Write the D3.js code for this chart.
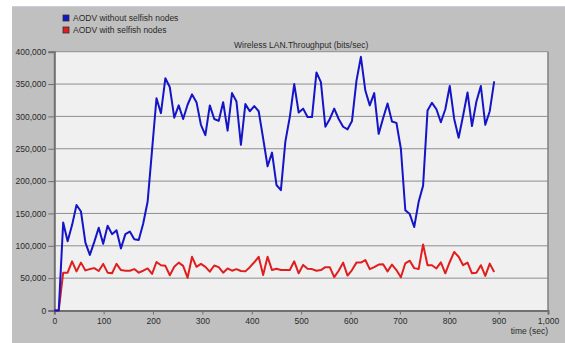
<!DOCTYPE html>
<html>
<head>
<meta charset="utf-8">
<script src="https://cdn.jsdelivr.net/npm/d3@7"></script>
<style>
  body { margin: 0; background: #ffffff; }
  svg { display: block; font-family: "Liberation Sans", Arial, sans-serif; }
</style>
</head>
<body>
<svg id="chart" width="565" height="343"></svg>
<script>
// sample times (sec)
var times = [0, 9, 18, 27, 36, 45, 54, 63, 72, 81, 90, 99, 108, 117, 126, 135, 144, 153, 162, 171,
  180, 189, 198, 207, 216, 225, 234, 243, 252, 261, 270, 279, 288, 297, 306, 315, 324, 333, 342, 351,
  360, 369, 378, 387, 396, 405, 414, 423, 432, 441, 450, 459, 468, 477, 486, 495, 504, 513, 522, 531,
  540, 549, 558, 567, 576, 585, 594, 603, 612, 621, 630, 639, 648, 657, 666, 675, 684, 693, 702, 711,
  720, 729, 738, 747, 756, 765, 774, 783, 792, 801, 810, 819, 828, 837, 846, 855, 864, 873, 882, 891];

// AODV without selfish nodes (bits/sec)
var withoutSelfish = [0, 0, 136000, 107000, 132000, 163000, 153000, 105000, 86000, 106000,
  128000, 103000, 131000, 118000, 124000, 96000, 118000, 122000, 110000, 109000,
  134000, 168000, 248000, 328000, 305000, 359000, 345000, 298000, 317000, 296000,
  318000, 334000, 322000, 287000, 271000, 317000, 296000, 293000, 322000, 278000,
  336000, 323000, 256000, 319000, 308000, 316000, 308000, 266000, 223000, 244000,
  194000, 186000, 261000, 299000, 350000, 306000, 312000, 299000, 299000, 368000,
  353000, 284000, 296000, 312000, 296000, 284000, 280000, 293000, 355000, 392000,
  340000, 317000, 336000, 273000, 297000, 320000, 292000, 290000, 250000, 155000,
  149000, 129000, 168000, 193000, 309000, 321000, 311000, 291000, 311000, 347000,
  296000, 267000, 301000, 337000, 285000, 323000, 347000, 287000, 308000, 354000];

// AODV with selfish nodes (bits/sec)
var withSelfish = [0, 0, 58500, 58500, 76000, 60500, 74000, 62000, 64000, 65500,
  61000, 72000, 58500, 57500, 72000, 62500, 61500, 61500, 64000, 58500,
  61500, 65000, 56500, 75000, 70000, 69000, 54500, 67500, 74000, 69000,
  50500, 83000, 67500, 72000, 67500, 60000, 69500, 67000, 58500, 65000,
  61500, 64000, 61000, 60500, 67000, 74500, 83000, 55000, 83000, 62500,
  64500, 62500, 62500, 62500, 76000, 57500, 70500, 64500, 64000, 61500,
  62500, 67000, 67000, 51500, 61500, 74000, 54000, 62500, 74000, 74000,
  78000, 64000, 67000, 71000, 71500, 60500, 71000, 62500, 51500, 73000,
  77000, 65500, 64000, 102000, 70000, 70000, 65000, 74500, 57500, 75000,
  90500, 83000, 70000, 74000, 57500, 58500, 70000, 53500, 72500, 59500];

var yTicks = [0, 50000, 100000, 150000, 200000, 250000, 300000, 350000, 400000];
var xTicks = [0, 100, 200, 300, 400, 500, 600, 700, 800, 900, 1000];
var seriesNames = ["AODV without selfish nodes", "AODV with selfish nodes"];
var seriesColors = ["#1414c8", "#e01e1e"];
var chartTitle = "Wireless LAN.Throughput (bits/sec)";
var xTitle = "time (sec)";

var svg = d3.select("#chart");

// plot box
var plotLeft = 54.3, plotRight = 548, plotTop = 51.7, plotBottom = 310.5;

var xScale = d3.scaleLinear().domain([0, 1000]).range([plotLeft, plotRight]);
var yScale = d3.scaleLinear().domain([0, 400000]).range([plotBottom, plotTop]);

// outer gray panel
svg.append("rect")
  .attr("x", 12)
  .attr("y", 7)
  .attr("width", 553)
  .attr("height", 336)
  .attr("fill", "#c0c0c0");
svg.append("line")
  .attr("x1", 12).attr("x2", 565)
  .attr("y1", 6.5).attr("y2", 6.5)
  .attr("stroke", "#c9d1de")
  .attr("stroke-width", 1);

// plot background
svg.append("rect")
  .attr("x", plotLeft)
  .attr("y", plotTop)
  .attr("width", plotRight - plotLeft)
  .attr("height", plotBottom - plotTop)
  .attr("fill", "#f0f0f0");

// horizontal grid
svg.append("g")
  .selectAll("line")
  .data(yTicks)
  .enter()
  .append("line")
  .attr("x1", plotLeft)
  .attr("x2", plotRight)
  .attr("y1", function (d) { return yScale(d); })
  .attr("y2", function (d) { return yScale(d); })
  .attr("stroke", "#8e8e8e")
  .attr("stroke-width", 1);

// frame: right side
svg.append("line")
  .attr("x1", plotRight).attr("x2", plotRight)
  .attr("y1", plotTop).attr("y2", plotBottom)
  .attr("stroke", "#808080")
  .attr("stroke-width", 1.5);

// y axis
var yAxisGen = d3.axisLeft(yScale)
  .tickValues(yTicks)
  .tickFormat(d3.format(","))
  .tickSize(6)
  .tickPadding(2);
var yAxis = svg.append("g")
  .attr("transform", "translate(" + plotLeft + ",0)")
  .call(yAxisGen);
yAxis.select(".domain").attr("stroke", "#707070").attr("stroke-width", 2);
yAxis.selectAll(".tick line").attr("stroke", "#707070");
yAxis.selectAll(".tick text")
  .attr("fill", "#2a2a2a")
  .style("font-size", "8.5px");

// x axis
var xAxisGen = d3.axisBottom(xScale)
  .tickValues(xTicks)
  .tickFormat(d3.format(","))
  .tickSize(4)
  .tickPadding(3);
var xAxis = svg.append("g")
  .attr("transform", "translate(0," + plotBottom + ")")
  .call(xAxisGen);
xAxis.select(".domain").attr("stroke", "#707070").attr("stroke-width", 2);
xAxis.selectAll(".tick line").attr("stroke", "#707070");
xAxis.selectAll(".tick text")
  .attr("fill", "#2a2a2a")
  .style("font-size", "8.5px");

// lines (red first, blue on top)
var lineGen = d3.line()
  .x(function (d, i) { return xScale(times[i]); })
  .y(function (d) { return yScale(d); });

svg.append("path")
  .datum(withSelfish)
  .attr("fill", "none")
  .attr("stroke", seriesColors[1])
  .attr("stroke-width", 2)
  .attr("stroke-linejoin", "round")
  .attr("d", lineGen);

svg.append("path")
  .datum(withoutSelfish)
  .attr("fill", "none")
  .attr("stroke", seriesColors[0])
  .attr("stroke-width", 2)
  .attr("stroke-linejoin", "round")
  .attr("d", lineGen);

// title
svg.append("text")
  .attr("x", (plotLeft + plotRight) / 2)
  .attr("y", 48)
  .attr("text-anchor", "middle")
  .attr("fill", "#2a2a2a")
  .style("font-size", "8.5px")
  .text(chartTitle);

// x axis title
svg.append("text")
  .attr("x", plotRight)
  .attr("y", 334)
  .attr("text-anchor", "end")
  .attr("fill", "#2a2a2a")
  .style("font-size", "8.5px")
  .text(xTitle);

// legend
var legend = svg.append("g")
  .selectAll("g")
  .data(seriesNames)
  .enter()
  .append("g")
  .attr("transform", function (d, i) { return "translate(63," + (15 + i * 12) + ")"; });
legend.append("rect")
  .attr("width", 6)
  .attr("height", 6)
  .attr("fill", function (d, i) { return seriesColors[i]; })
  .attr("stroke", "#303030")
  .attr("stroke-width", 0.8);
legend.append("text")
  .attr("x", 10)
  .attr("y", 6)
  .attr("fill", "#2a2a2a")
  .style("font-size", "8.5px")
  .text(function (d) { return d; });
</script>
</body>
</html>
